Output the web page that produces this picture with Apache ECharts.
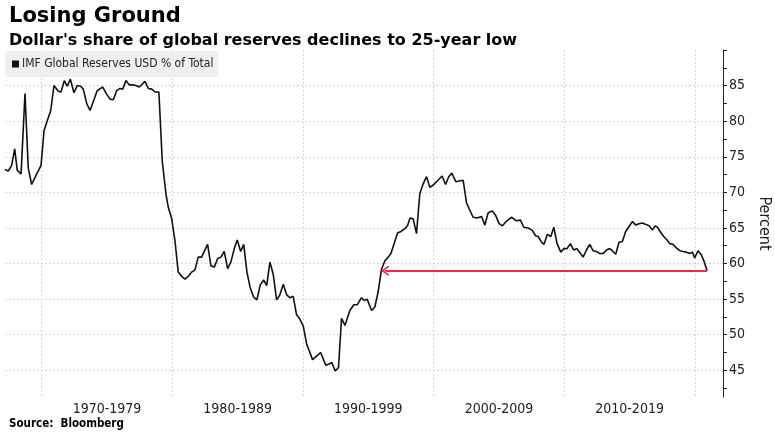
<!DOCTYPE html>
<html>
<head>
<meta charset="utf-8">
<script src="https://cdn.jsdelivr.net/npm/echarts@6/dist/echarts.min.js"></script>
<style>
  html, body { margin: 0; padding: 0; background: #fff; }
  #chart { width: 775px; height: 440px; }
</style>
</head>
<body>
<div id="chart"></div>
<script>
// roughly quarterly points
var years = [
  1967.19, 1967.44, 1967.70, 1967.93, 1968.13, 1968.42, 1968.72, 1968.97, 1969.23, 1969.62, 1969.95,
  1970.18, 1970.38, 1970.69, 1970.94, 1971.27, 1971.48, 1971.73, 1971.96, 1972.19, 1972.47,
  1972.72, 1972.98, 1973.18, 1973.44, 1973.70, 1974.00, 1974.25, 1974.67, 1974.97, 1975.23,
  1975.48, 1975.74, 1975.99, 1976.20, 1976.45, 1976.70, 1976.96, 1977.21, 1977.47, 1977.90,
  1978.16, 1978.42, 1978.67, 1978.97, 1979.23, 1979.51, 1979.69, 1979.95,
  1980.20, 1980.45, 1980.71, 1980.96, 1981.22, 1981.48, 1981.73, 1981.98, 1982.24, 1982.44,
  1982.70, 1982.95, 1983.21, 1983.47, 1983.72, 1983.97, 1984.23, 1984.48, 1984.74, 1984.97,
  1985.23, 1985.46, 1985.71, 1985.96, 1986.22, 1986.47, 1986.73, 1986.99, 1987.22, 1987.47,
  1987.72, 1987.98, 1988.23, 1988.49, 1988.75, 1989.00, 1989.25, 1989.51, 1989.76,
  1990.02, 1990.28, 1990.53, 1990.73, 1991.04, 1991.35, 1991.50, 1991.75, 1992.00, 1992.21,
  1992.46, 1992.72, 1992.95, 1993.21, 1993.46, 1993.59, 1993.89, 1994.15, 1994.48, 1994.68,
  1994.91, 1995.25, 1995.50, 1995.75, 1996.01, 1996.27, 1996.52, 1996.73, 1996.98, 1997.24,
  1997.49, 1997.80, 1998.00, 1998.20, 1998.43, 1998.69, 1998.94, 1999.20, 1999.46, 1999.71,
  2000.02, 2000.27, 2000.65, 2000.91, 2001.16, 2001.39, 2001.70, 2001.95, 2002.26, 2002.52,
  2002.72, 2003.02, 2003.33, 2003.67, 2003.92, 2004.17, 2004.48, 2004.74, 2005.01, 2005.27,
  2005.60, 2005.98, 2006.33, 2006.65, 2006.90, 2007.23, 2007.54, 2007.80, 2008.00, 2008.26,
  2008.45, 2008.71, 2008.97, 2009.20, 2009.45, 2009.73, 2009.98,
  2010.21, 2010.47, 2010.72, 2010.97, 2011.24, 2011.44, 2011.70, 2011.95, 2012.20, 2012.46,
  2012.71, 2012.97, 2013.23, 2013.48, 2013.73, 2013.94, 2014.19, 2014.45, 2014.70, 2014.96,
  2015.22, 2015.47, 2015.72, 2015.98, 2016.24, 2016.49, 2016.75, 2016.95, 2017.13, 2017.38,
  2017.61, 2017.87, 2018.07, 2018.32, 2018.58, 2018.84, 2019.09, 2019.35, 2019.60, 2019.81,
  2019.98, 2020.24, 2020.50, 2020.70, 2020.93
];
var usdShare = [
  73.2, 73.0, 73.8, 76.1, 73.1, 72.6, 83.9, 73.4, 71.1, 72.6, 73.8,
  78.7, 79.8, 81.5, 85.0, 84.2, 84.1, 85.7, 84.9, 85.9, 84.0,
  85.0, 84.9, 84.5, 82.5, 81.5, 83.0, 84.3, 84.8, 83.8, 83.1,
  83.0, 84.3, 84.6, 84.5, 85.7, 85.1, 85.1, 85.0, 84.8, 85.6,
  84.6, 84.5, 84.1, 84.1, 74.3, 69.8, 67.9, 66.3,
  63.2, 58.8, 58.2, 57.8, 58.2, 58.8, 59.1, 60.9, 60.9, 61.7,
  62.7, 59.7, 59.5, 60.7, 60.9, 61.7, 59.3, 60.2, 62.1, 63.3,
  61.7, 62.7, 58.8, 56.6, 55.3, 54.9, 57.0, 57.7, 56.9, 60.2,
  58.5, 54.9, 55.6, 57.1, 55.6, 55.2, 55.4, 52.8, 52.2,
  51.2, 48.7, 47.5, 46.5, 47.0, 47.5, 47.3, 45.7, 45.9, 46.1,
  44.9, 45.4, 52.3, 51.3, 52.7, 53.4, 54.2, 54.2, 55.2, 54.8,
  55.0, 53.4, 53.9, 56.0, 59.2, 60.4, 60.9, 61.4, 62.8, 64.3,
  64.5, 64.9, 65.3, 66.4, 66.3, 64.2, 69.8, 71.2, 72.2, 70.7,
  71.1, 71.6, 72.3, 71.1, 72.2, 72.7, 71.5, 71.6, 71.7, 68.5,
  67.7, 66.5, 66.4, 66.6, 65.4, 67.1, 67.4, 66.8, 65.6, 65.3,
  66.0, 66.5, 66.0, 66.1, 65.1, 65.0, 64.7, 63.9, 63.8, 63.0,
  62.7, 64.1, 63.8, 65.1, 62.8, 61.6, 62.1,
  62.1, 62.8, 61.9, 62.1, 61.4, 60.9, 61.9, 62.7, 61.8, 61.7,
  61.4, 61.4, 61.9, 62.1, 61.7, 61.3, 63.0, 63.1, 64.5, 65.2,
  65.9, 65.4, 65.6, 65.7, 65.5, 65.3, 64.7, 65.3, 65.1, 64.4,
  63.8, 63.3, 62.8, 62.7, 62.2, 61.8, 61.7, 61.6, 61.4, 61.6,
  60.8, 61.8, 61.2, 60.3, 59.0
];

var decadeEdges = [1970, 1980, 1990, 2000, 2010, 2020];
var decadeMids = [1975, 1985, 1995, 2005, 2015];
var decadeLabels = ['1970-1979', '1980-1989', '1990-1999', '2000-2009', '2010-2019'];
var yTicks = [42.5, 45, 47.5, 50, 52.5, 55, 57.5, 60, 62.5, 65, 67.5, 70, 72.5, 75, 77.5, 80, 82.5, 85, 87.5, 90];
var yLabels = [45, 50, 55, 60, 65, 70, 75, 80, 85];

// arrow: from the latest reading back to when it was last this low
var arrowFrom = [2020.93, 59.0];
var arrowTo = [1996.3, 59.0];

var seriesName = 'IMF Global Reserves USD % of Total';
var cond = '"DejaVu Sans Condensed", "DejaVu Sans", sans-serif';
var bold = '"DejaVu Sans", sans-serif';

var data = years.map(function (y, i) { return [y, usdShare[i]]; });

var chart = echarts.init(document.getElementById('chart'));
chart.setOption({
  animation: false,
  backgroundColor: '#fff',
  title: [
    { text: 'Losing Ground', left: 4, top: 1,
      textStyle: { fontFamily: bold, fontWeight: 'bold', fontSize: 21, color: '#000' } },
    { text: "Dollar's share of global reserves declines to 25-year low", left: 4, top: 28,
      textStyle: { fontFamily: bold, fontWeight: 'bold', fontSize: 16, color: '#000' } },
    { text: 'Source:  Bloomberg', left: 4, top: 413,
      textStyle: { fontFamily: cond, fontWeight: 'bold', fontSize: 11.5, color: '#000' } }
  ],
  legend: {
    data: [seriesName],
    left: 5, top: 51,
    backgroundColor: '#efefef',
    padding: [7, 5, 7, 7],
    icon: 'rect', itemWidth: 7, itemHeight: 7,
    textStyle: { fontFamily: cond, fontSize: 12, color: '#222', padding: [0, 0, 0, -2] }
  },
  grid: { left: 5, right: 52, top: 50, bottom: 43, outerBoundsMode: 'none' },
  xAxis: {
    type: 'value', min: 1967.19, max: 2022.15,
    axisLine: { show: false },
    axisTick: { show: false, customValues: decadeEdges },
    splitLine: { show: true, lineStyle: { color: '#d6d6d6', type: [2, 2], width: 1 } },
    axisLabel: {
      customValues: decadeMids, margin: 5,
      fontFamily: cond, fontSize: 14, color: '#222',
      formatter: function (v) { return decadeLabels[Math.round((v - 1975) / 10)]; }
    }
  },
  yAxis: [
    {
      type: 'value', position: 'right', min: 41.25, max: 90,
      name: 'Percent', nameLocation: 'middle', nameRotate: -90, nameGap: 32,
      nameTextStyle: { fontFamily: cond, fontSize: 16, color: '#222' },
      axisLine: { show: true, lineStyle: { color: '#222', width: 1 } },
      axisTick: { show: true, inside: false, length: 4, customValues: yTicks,
        lineStyle: { color: '#222' } },
      axisLabel: { customValues: yLabels, margin: 6, fontFamily: cond, fontSize: 14, color: '#222' },
      splitLine: { show: false }
    },
    {
      type: 'value', position: 'right', min: 41.25, max: 90,
      axisLine: { show: false },
      axisTick: { show: false, customValues: yLabels },
      axisLabel: { show: false },
      splitLine: { show: true, lineStyle: { color: '#d6d6d6', type: [2, 2], width: 1 } }
    }
  ],
  series: [{
    name: seriesName,
    type: 'line',
    yAxisIndex: 0,
    data: data,
    showSymbol: false,
    lineStyle: { color: '#111', width: 1.6 },
    itemStyle: { color: '#111' },
    markLine: {
      silent: true,
      symbol: ['none', 'path://M10,0 L20,10 L18,12 L10,4 L2,12 L0,10 Z'],
      symbolSize: [10, 8],
      label: { show: false },
      lineStyle: { color: '#f0284a', width: 2, type: 'solid' },
      data: [[{ coord: arrowFrom }, { coord: arrowTo }]]
    }
  }]
});
</script>
</body>
</html>
